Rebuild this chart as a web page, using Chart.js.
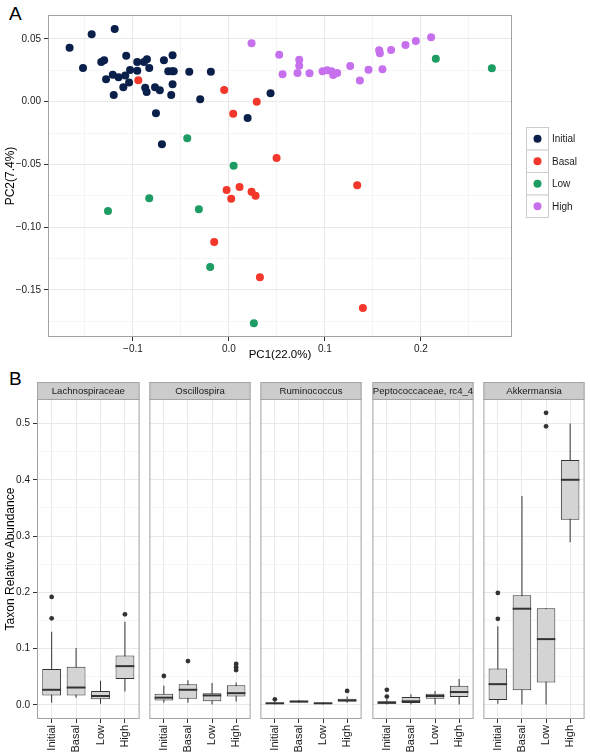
<!DOCTYPE html>
<html>
<head>
<meta charset="utf-8">
<script src="https://cdn.jsdelivr.net/npm/chart.js@4.4.1/dist/chart.umd.min.js"></script>
<style>
body{margin:0;background:#fff;width:590px;height:754px;position:relative;overflow:hidden;font-family:"Liberation Sans",Arial,sans-serif}
canvas{position:absolute}
.tag{position:absolute;font-size:19px;line-height:1;color:#000}
</style>
</head>
<body>
<div class="tag" style="left:9px;top:4px">A</div>
<div class="tag" style="left:9px;top:369px">B</div>
<canvas id="pca" style="left:0;top:0" width="590" height="370"></canvas>
<script>
// ---- panel A : PCoA scores ----
var pcGroups = ['Initial', 'Basal', 'Low', 'High'];
var pcColors = ['#0b1f4b', '#f4372b', '#1d9c63', '#c770ee'];

var initialPts = [[-0.166,0.043],[-0.143,0.0537],[-0.119,0.058],[-0.152,0.0269],[-0.133,0.0317],[-0.130,0.033],
  [-0.107,0.0367],[-0.128,0.0179],[-0.121,0.0215],[-0.115,0.0194],[-0.108,0.0208],[-0.103,0.0253],[-0.0955,0.0247],
  [-0.0955,0.0317],[-0.0885,0.0317],[-0.0854,0.0338],[-0.083,0.0269],[-0.104,0.0152],[-0.110,0.0115],[-0.120,0.0053],
  [-0.0872,0.0112],[-0.0857,0.0077],[-0.077,0.0115],[-0.072,0.0091],[-0.0677,0.033],[-0.0587,0.037],[-0.0632,0.0242],
  [-0.0594,0.0242],[-0.0575,0.0242],[-0.0587,0.0139],[-0.0601,0.0053],[-0.0413,0.0239],[-0.0188,0.0239],[-0.0299,0.0019],
  [-0.076,-0.0093],[-0.0698,-0.034],[0.0195,-0.013],[0.0434,0.0067]];
var basalPts = [[-0.0944,0.0171],[-0.0049,0.0093],[0.029,0.0],[0.0045,-0.0096],[0.0497,-0.0449],[-0.0024,-0.0704],
  [0.0111,-0.068],[0.0236,-0.0718],[0.0278,-0.075],[0.0024,-0.0773],[-0.0153,-0.1119],[0.0323,-0.140],[0.1337,-0.0667],
  [0.1396,-0.1645]];
var lowPts = [[-0.0434,-0.0292],[0.0049,-0.051],[-0.083,-0.077],[-0.126,-0.0872],[-0.0313,-0.0858],[-0.0195,-0.1318],
  [0.026,-0.1767],[0.2156,0.0343],[0.274,0.0266]];
var highPts = [[0.0236,0.0466],[0.0524,0.0375],[0.0559,0.0218],[0.0715,0.0229],[0.0733,0.0335],[0.0733,0.0287],
  [0.084,0.0226],[0.0976,0.0242],[0.1024,0.025],[0.107,0.0242],[0.1087,0.0213],[0.1128,0.0229],[0.1264,0.0285],
  [0.1365,0.0168],[0.1455,0.0255],[0.160,0.0258],[0.1566,0.041],[0.1573,0.0386],[0.169,0.0412],[0.184,0.0452],
  [0.1948,0.0484],[0.2107,0.0513]];
var pcPoints = [initialPts, basalPts, lowPts, highPts];

var pcXTicks = [-0.1, 0, 0.1, 0.2];
var pcXLabels = ['\u22120.1', '0.0', '0.1', '0.2'];
var pcXMinor = [-0.15, -0.05, 0.05, 0.15, 0.25];
var pcYTicks = [-0.15, -0.1, -0.05, 0, 0.05];
var pcYLabels = ['\u22120.15', '\u22120.10', '\u22120.05', '0.00', '0.05'];
var pcYMinor = [-0.175, -0.125, -0.075, -0.025, 0.025];

// ---- panel B : relative abundance boxplots ----
var groups = ['Initial', 'Basal', 'Low', 'High'];
var taxa = ['Lachnospiraceae', 'Oscillospira', 'Ruminococcus', 'Peptococcaceae, rc4_4', 'Akkermansia'];
var whiskLo = [[0.004,0.013,0.002,0.024],[0.004,0.004,0.001,0.006],[0.0,0.004,0.001,0.004],[0,0,0,0],[0.002,0.0,0.0,0.289]];
var boxQ1   = [[0.017,0.017,0.010,0.046],[0.008,0.011,0.0065,0.015],[0.002,0.005,0.002,0.006],[0.002,0.0035,0.011,0.014],[0.009,0.026,0.040,0.329]];
var boxMed  = [[0.027,0.031,0.016,0.069],[0.013,0.027,0.017,0.021],[0.003,0.006,0.003,0.008],[0.004,0.0065,0.016,0.023],[0.037,0.171,0.117,0.400]];
var boxQ3   = [[0.064,0.068,0.025,0.088],[0.020,0.037,0.021,0.035],[0.004,0.008,0.004,0.011],[0.0065,0.014,0.020,0.034],[0.065,0.195,0.172,0.435]];
var whiskHi = [[0.130,0.101,0.043,0.148],[0.034,0.044,0.039,0.040],[0.006,0.009,0.005,0.015],[0.010,0.019,0.025,0.046],[0.140,0.371,0.172,0.500]];
var outliers = [
  [[0.192,0.154],[],[],[0.161]],
  [[0.0515],[0.078],[],[0.062,0.067,0.073]],
  [[0.010],[],[],[0.025]],
  [[0.015,0.027],[],[],[]],
  [[0.153,0.199],[],[0.495,0.519],[]]
];
var abundTicks = [0, 0.1, 0.2, 0.3, 0.4, 0.5];
var abundLabels = ['0.0', '0.1', '0.2', '0.3', '0.4', '0.5'];
var abundMinor = [0.05, 0.15, 0.25, 0.35, 0.45];

Chart.defaults.font.family = '"Liberation Sans", Arial, sans-serif';
Chart.defaults.color = '#1a1a1a';

function near(a, b){ return Math.abs(a - b) < 1e-9; }
function tickBuilder(major, minor){
  return function(scale){
    var t = major.map(function(v){ return {value: v, minor: false}; })
      .concat(minor.map(function(v){ return {value: v, minor: true}; }));
    t.sort(function(a, b){ return a.value - b.value; });
    scale.ticks = t;
  };
}
function tickLabel(major, labels){
  return function(v){
    for (var i = 0; i < major.length; i++) if (near(major[i], v)) return labels[i];
    return '';
  };
}
function gridCol(c){ return c.tick && c.tick.minor ? '#f5f5f5' : '#e9e9e9'; }
function tickCol(c){ return c.tick && c.tick.minor ? 'rgba(0,0,0,0)' : '#333'; }

var panelBorder = {
  id: 'panelBorder',
  afterDraw: function(chart){
    var a = chart.chartArea, c = chart.ctx;
    c.save();
    c.strokeStyle = '#a3a3a3';
    c.lineWidth = 1;
    c.strokeRect(a.left + 0.5, a.top + 0.5, a.right - a.left - 1, a.bottom - a.top - 1);
    c.restore();
  }
};

var ggLegend = {
  id: 'ggLegend',
  afterDraw: function(chart){
    var c = chart.ctx;
    var x0 = 526, y0 = 127, w = 22, h = 22.5;
    c.save();
    chart.data.datasets.forEach(function(ds, i){
      var y = y0 + i * h;
      c.fillStyle = '#fff';
      c.fillRect(x0, y, w, h);
      c.strokeStyle = '#cccccc';
      c.lineWidth = 1;
      c.strokeRect(x0 + 0.5, y + 0.5, w, h);
      c.fillStyle = ds.backgroundColor;
      c.beginPath();
      c.arc(x0 + w / 2 + 0.5, y + h / 2 + 0.5, 4, 0, Math.PI * 2);
      c.fill();
      c.fillStyle = '#1a1a1a';
      c.font = '10px "Liberation Sans", Arial, sans-serif';
      c.textBaseline = 'middle';
      c.fillText(ds.label, x0 + w + 4, y + h / 2 + 1);
    });
    c.restore();
  }
};

new Chart(document.getElementById('pca'), {
  type: 'scatter',
  data: {
    datasets: pcGroups.map(function(g, i){
      return {
        label: g,
        data: pcPoints[i].map(function(p){ return {x: p[0], y: p[1]}; }),
        backgroundColor: pcColors[i],
        pointRadius: 4,
        pointBorderWidth: 0,
        pointHoverRadius: 4,
        order: 3 - i
      };
    })
  },
  options: {
    responsive: false,
    animation: false,
    events: [],
    layout: {padding: {top: 15, right: 78, left: 0, bottom: 0}},
    plugins: {legend: {display: false}, tooltip: {enabled: false}},
    scales: {
      x: {
        type: 'linear', min: -0.1885, max: 0.295, bounds: 'data', offset: false,
        afterBuildTicks: tickBuilder(pcXTicks, pcXMinor),
        afterFit: function(s){ s.height = 33; },
        ticks: {autoSkip: false, maxRotation: 0, padding: 2, font: {size: 10}, color: '#1a1a1a', callback: tickLabel(pcXTicks, pcXLabels)},
        grid: {color: gridCol, tickColor: tickCol, tickLength: 4, offset: false},
        border: {display: false},
        title: {display: true, text: 'PC1(22.0%)', font: {size: 11.5}, color: '#000', padding: {top: 0, bottom: 8}}
      },
      y: {
        type: 'linear', min: -0.1876, max: 0.0691, bounds: 'data',
        afterBuildTicks: tickBuilder(pcYTicks, pcYMinor),
        afterFit: function(s){ s.width = 48; },
        ticks: {autoSkip: false, padding: 3, font: {size: 10}, color: '#1a1a1a', callback: tickLabel(pcYTicks, pcYLabels)},
        grid: {color: gridCol, tickColor: tickCol, tickLength: 4},
        border: {display: false},
        title: {display: true, text: 'PC2(7.4%)', font: {size: 12}, color: '#000', padding: {top: 3, bottom: 0}}
      }
    }
  },
  plugins: [panelBorder, ggLegend]
});

// ---- panel B facets ----
var boxExtras = {
  id: 'boxExtras',
  afterDatasetsDraw: function(chart, args, opts){
    var c = chart.ctx, ys = chart.scales.y;
    var meta = chart.getDatasetMeta(0);
    c.save();
    c.strokeStyle = '#333';
    c.lineWidth = 2;
    meta.data.forEach(function(el, i){
      var y = ys.getPixelForValue(opts.median[i]);
      c.beginPath();
      c.moveTo(el.x - el.width / 2, y);
      c.lineTo(el.x + el.width / 2, y);
      c.stroke();
    });
    c.restore();
  },
  afterDraw: function(chart, args, opts){
    var a = chart.chartArea, c = chart.ctx;
    c.save();
    c.fillStyle = '#cccccc';
    c.fillRect(a.left, a.top - 17, a.right - a.left, 17);
    c.strokeStyle = '#a3a3a3';
    c.lineWidth = 1;
    c.strokeRect(a.left + 0.5, a.top - 16.5, a.right - a.left - 1, 17);
    c.fillStyle = '#1a1a1a';
    c.font = '9.6px "Liberation Sans", Arial, sans-serif';
    c.textAlign = 'center';
    c.textBaseline = 'middle';
    c.fillText(opts.title, (a.left + a.right) / 2, a.top - 8);
    c.restore();
  }
};

var facetLeft = [37, 148, 259, 371, 482];
var facetW = 104;

taxa.forEach(function(name, f){
  var first = f === 0;
  var cv = document.createElement('canvas');
  var cl = first ? 0 : facetLeft[f] - 1;
  var cw = first ? facetLeft[0] + facetW + 1 : facetW + 2;
  cv.width = cw;
  cv.height = 384;
  cv.style.left = cl + 'px';
  cv.style.top = '370px';
  document.body.appendChild(cv);

  var outPts = [];
  outliers[f].forEach(function(arr, i){
    arr.forEach(function(v){ outPts.push({x: i, y: v}); });
  });

  new Chart(cv, {
    type: 'bar',
    data: {
      datasets: [
        {
          type: 'bar',
          data: groups.map(function(g, i){ return {x: i, y: [boxQ1[f][i], boxQ3[f][i]]}; }),
          backgroundColor: '#d4d4d4', borderColor: '#333', borderWidth: 1, borderSkipped: false,
          grouped: false, barPercentage: 0.77, categoryPercentage: 1, order: 1
        },
        {
          type: 'bar',
          data: groups.map(function(g, i){ return {x: i, y: [whiskLo[f][i], whiskHi[f][i]]}; }),
          backgroundColor: '#333', borderWidth: 0, grouped: false, maxBarThickness: 1, order: 2
        },
        {
          type: 'scatter',
          data: outPts,
          backgroundColor: '#333', pointRadius: 2.4, pointBorderWidth: 0, pointHoverRadius: 2.4, order: 0
        }
      ]
    },
    options: {
      responsive: false,
      animation: false,
      events: [],
      layout: {padding: {top: 29, bottom: 0, left: first ? 0 : 1, right: 1}},
      plugins: {
        legend: {display: false}, tooltip: {enabled: false},
        boxExtras: {median: boxMed[f], title: name}
      },
      scales: {
        x: {
          type: 'linear', min: -0.6, max: 3.6, bounds: 'data', offset: false,
          afterBuildTicks: function(s){ s.ticks = groups.map(function(g, i){ return {value: i}; }); },
          afterFit: function(s){ s.height = 35; },
          ticks: {autoSkip: false, minRotation: 90, maxRotation: 90, padding: 2, font: {size: 11}, color: '#1a1a1a',
            callback: function(v){ return groups[Math.round(v)]; }},
          grid: {color: '#e9e9e9', tickColor: '#333', tickLength: 4, offset: false},
          border: {display: false}
        },
        y: {
          type: 'linear', min: -0.0249, max: 0.5435, bounds: 'data',
          afterBuildTicks: tickBuilder(abundTicks, abundMinor),
          afterFit: function(s){ s.width = first ? 37 : 0; },
          ticks: {display: first, autoSkip: false, padding: 3, font: {size: 10}, color: '#1a1a1a', callback: tickLabel(abundTicks, abundLabels)},
          grid: {color: gridCol, tickColor: tickCol, tickLength: 4, drawTicks: first},
          border: {display: false},
          title: {display: first, text: 'Taxon Relative Abundance', font: {size: 12}, color: '#000', padding: {top: 3, bottom: 0}}
        }
      }
    },
    plugins: [panelBorder, boxExtras]
  });
});
</script>
</body>
</html>
